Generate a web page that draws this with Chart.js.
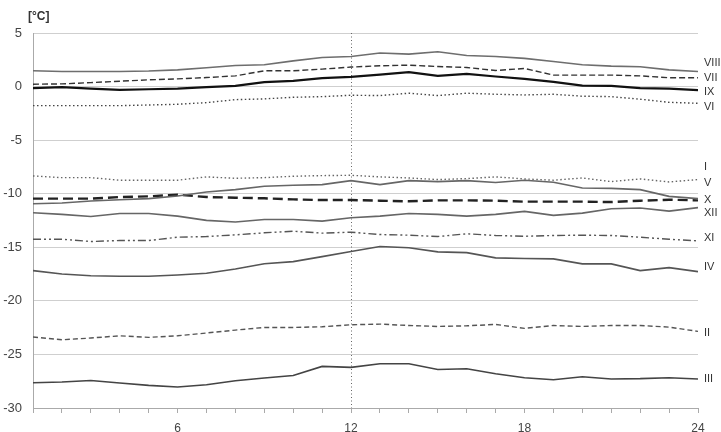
<!DOCTYPE html>
<html><head><meta charset="utf-8">
<script src="https://cdn.jsdelivr.net/npm/chart.js@4"></script>
<style>html,body{margin:0;padding:0;background:#fff}#wrap{width:721px;height:432px;position:relative}</style>
</head><body><div id="wrap"><canvas id="c" width="721" height="432"></canvas></div>
<script>
const hours = [1,2,3,4,5,6,7,8,9,10,11,12,13,14,15,16,17,18,19,20,21,22,23,24];
const seriesNames = ["VIII","VII","IX","VI","I","V","X","XII","XI","IV","II","III"];
const VIII = [1.47,1.4,1.4,1.4,1.45,1.56,1.75,1.97,2.03,2.4,2.72,2.81,3.13,3.03,3.25,2.9,2.81,2.63,2.34,2.03,1.91,1.85,1.56,1.4];
const VII  = [0.22,0.25,0.37,0.5,0.63,0.72,0.84,1.0,1.47,1.47,1.63,1.82,1.94,2.0,1.87,1.78,1.5,1.69,1.07,1.07,1.07,1.0,0.82,0.82];
const IX   = [-0.15,-0.06,-0.19,-0.31,-0.25,-0.19,-0.06,0.06,0.41,0.53,0.78,0.91,1.12,1.34,1.0,1.19,0.94,0.72,0.44,0.09,0.06,-0.15,-0.19,-0.34];
const VI   = [-1.78,-1.78,-1.78,-1.78,-1.72,-1.65,-1.5,-1.22,-1.15,-1.0,-0.94,-0.81,-0.84,-0.62,-0.84,-0.62,-0.72,-0.78,-0.72,-0.9,-0.94,-1.18,-1.47,-1.56];
const I    = [-8.34,-8.5,-8.5,-8.74,-8.74,-8.74,-8.43,-8.56,-8.5,-8.37,-8.31,-8.28,-8.43,-8.53,-8.68,-8.59,-8.43,-8.62,-8.74,-8.53,-8.87,-8.62,-8.9,-8.68];
const V    = [-10.93,-10.87,-10.68,-10.56,-10.46,-10.22,-9.84,-9.62,-9.31,-9.21,-9.15,-8.78,-9.15,-8.78,-8.87,-8.78,-8.96,-8.74,-8.93,-9.46,-9.5,-9.62,-10.25,-10.46];
const X    = [-10.46,-10.46,-10.46,-10.31,-10.25,-10.09,-10.31,-10.37,-10.43,-10.53,-10.59,-10.59,-10.65,-10.71,-10.62,-10.62,-10.65,-10.74,-10.74,-10.74,-10.78,-10.65,-10.56,-10.62];
const XII  = [-11.77,-11.93,-12.12,-11.84,-11.84,-12.09,-12.49,-12.64,-12.4,-12.4,-12.56,-12.24,-12.09,-11.84,-11.93,-12.09,-11.93,-11.65,-12.02,-11.81,-11.4,-11.34,-11.62,-11.3];
const XI   = [-14.25,-14.25,-14.46,-14.37,-14.37,-14.06,-14.0,-13.84,-13.65,-13.5,-13.68,-13.59,-13.81,-13.87,-14.0,-13.74,-13.9,-13.97,-13.9,-13.87,-13.9,-14.06,-14.25,-14.4];
const IV   = [-17.18,-17.49,-17.65,-17.71,-17.71,-17.59,-17.43,-17.02,-16.53,-16.34,-15.87,-15.4,-14.93,-15.05,-15.43,-15.5,-15.99,-16.05,-16.08,-16.55,-16.55,-17.18,-16.9,-17.27];
const II   = [-23.38,-23.63,-23.47,-23.26,-23.41,-23.26,-23.0,-22.73,-22.48,-22.48,-22.42,-22.23,-22.17,-22.3,-22.39,-22.33,-22.2,-22.57,-22.3,-22.39,-22.3,-22.3,-22.45,-22.85];
const III  = [-27.64,-27.58,-27.43,-27.67,-27.89,-28.04,-27.83,-27.45,-27.2,-26.96,-26.12,-26.21,-25.87,-25.87,-26.4,-26.33,-26.8,-27.17,-27.36,-27.08,-27.29,-27.26,-27.17,-27.29];
const labelPos = [2.24,0.84,-0.49,-1.87,-7.52,-9.01,-10.57,-11.81,-14.09,-16.82,-23.0,-27.3];
const yTicks = [5,0,-5,-10,-15,-20,-25,-30];
const xTickLabels = [6,12,18,24];
const markerHour = 12;
const unitLabel = "[°C]";

const values = [VIII,VII,IX,VI,I,V,X,XII,XI,IV,II,III];
const styles = [
  {c:'#6e6e6e', w:1.6, d:[]},
  {c:'#333333', w:1.4, d:[6,3]},
  {c:'#111111', w:2.2, d:[]},
  {c:'#444444', w:1.4, d:[1.5,2.5]},
  {c:'#666666', w:1.4, d:[1.5,2.5]},
  {c:'#666666', w:1.6, d:[]},
  {c:'#222222', w:2.4, d:[10,5]},
  {c:'#666666', w:1.6, d:[]},
  {c:'#555555', w:1.4, d:[8,3,2,3,2,3]},
  {c:'#555555', w:1.6, d:[]},
  {c:'#555555', w:1.4, d:[5,3]},
  {c:'#444444', w:1.6, d:[]}
];
const datasets = values.map((arr,i)=>({
  label: seriesNames[i],
  data: hours.map((h,j)=>({x:h,y:arr[j]})),
  borderColor: styles[i].c,
  borderWidth: styles[i].w,
  borderDash: styles[i].d,
  pointRadius: 0,
  tension: 0,
  fill: false
}));

const overlay = {
  id:'overlay',
  beforeDatasetsDraw(chart){
    const {ctx, chartArea:a, scales:{x}} = chart;
    const px = Math.round(x.getPixelForValue(markerHour))+0.5;
    ctx.save();
    ctx.strokeStyle='#666'; ctx.lineWidth=1; ctx.setLineDash([1,2.5]);
    ctx.beginPath(); ctx.moveTo(px,a.top); ctx.lineTo(px,a.bottom); ctx.stroke();
    ctx.restore();
  },
  afterDatasetsDraw(chart){
    const {ctx, chartArea:a, scales:{y}} = chart;
    ctx.save();
    ctx.font = '11px "Liberation Sans", Arial, sans-serif';
    ctx.fillStyle = '#333'; ctx.textBaseline='middle'; ctx.textAlign='left';
    seriesNames.forEach((n,i)=>{
      ctx.fillText(n, a.right+6, y.getPixelForValue(labelPos[i]));
    });
    ctx.font = 'bold 12px "Liberation Sans", Arial, sans-serif';
    ctx.fillStyle = '#333'; ctx.textBaseline='middle';
    ctx.fillText(unitLabel, 28, 17);
    ctx.restore();
  }
};

new Chart(document.getElementById('c'), {
  type:'line',
  data:{datasets},
  plugins:[overlay],
  options:{
    responsive:false, animation:false,
    layout:{padding:{top:33,right:23,left:0,bottom:0}},
    plugins:{legend:{display:false}, tooltip:{enabled:false}},
    scales:{
      x:{type:'linear', min:1, max:24,
        afterFit(s){s.height=24;},
        afterBuildTicks(s){s.ticks = hours.map(v=>({value:v}));},
        ticks:{autoSkip:false, maxRotation:0, padding:8, color:'#444',
          font:{family:'"Liberation Sans", Arial, sans-serif', size:12},
          callback:(v)=> xTickLabels.includes(v) ? String(v) : ''},
        grid:{drawOnChartArea:false, drawTicks:true, tickLength:5, color:'#aaa'},
        border:{color:'#aaa'}
      },
      y:{min:-30, max:5,
        afterFit(s){s.width=33;},
        afterBuildTicks(s){s.ticks = yTicks.map(v=>({value:v}));},
        ticks:{padding:11, color:'#444',
          font:{family:'"Liberation Sans", Arial, sans-serif', size:13}},
        grid:{color:'#cfcfcf', drawTicks:false, lineWidth:1},
        border:{color:'#aaa'}
      }
    }
  }
});
</script></body></html>
